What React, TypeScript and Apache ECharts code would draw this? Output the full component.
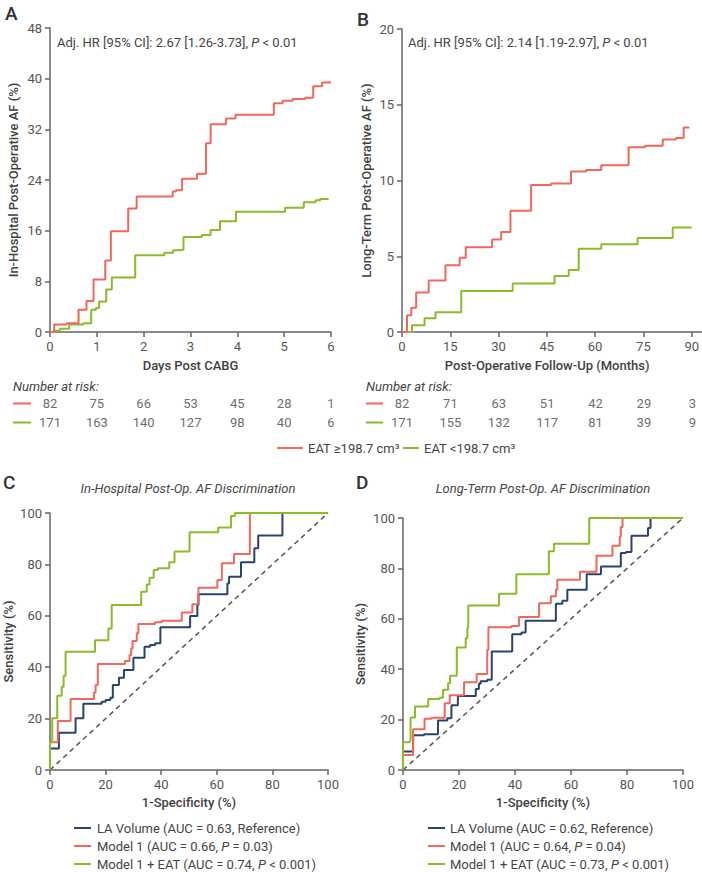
import React, { useEffect, useRef } from "react";
import * as echarts from "echarts";

// ---------------- DATA ----------------
const kmGroups = ["EAT \u2265198.7 cm\u00b3", "EAT <198.7 cm\u00b3"];

// Panel A: in-hospital KM (time in days, cumulative AF %)
const aRedSteps: [number, number][] = [
  [0, 0], [0.09, 1.2], [0.36, 1.4], [0.61, 3.5], [0.78, 4.9], [0.93, 8.3], [1.18, 11.3], [1.3, 15.9],
  [1.67, 19.5], [1.85, 21.4], [2.62, 22.2], [2.69, 22.4], [2.82, 24.2], [3.14, 25.0], [3.33, 29.8],
  [3.43, 32.8], [3.76, 33.7], [3.96, 34.3], [4.78, 36.1], [4.97, 36.5], [5.18, 36.8], [5.45, 37.0],
  [5.62, 38.8], [5.81, 39.4], [6.0, 39.4],
];
const aGreenSteps: [number, number][] = [
  [0, 0], [0.1, 0.2], [0.21, 0.5], [0.41, 1.2], [0.71, 1.4], [0.88, 3.5], [0.98, 3.8], [1.05, 4.8],
  [1.2, 6.7], [1.32, 8.6], [1.82, 12.1], [2.44, 12.5], [2.63, 12.9], [2.74, 13.0], [2.85, 15.0],
  [3.24, 15.3], [3.43, 16.1], [3.63, 17.5], [3.97, 19.0], [5.02, 19.6], [5.42, 20.5], [5.67, 20.8],
  [5.77, 21.0], [5.95, 21.0],
];
// Panel B: long-term KM (months, cumulative AF %)
const bRedSteps: [number, number][] = [
  [0, 0], [1.55, 1.1], [2.9, 1.6], [4.4, 2.6], [8.3, 3.4], [13.5, 4.4], [17.9, 4.9], [19.8, 5.6],
  [28.0, 6.1], [30.8, 6.6], [33.7, 8.0], [40.1, 9.7], [46.3, 9.8], [52.5, 10.6], [57.2, 10.7],
  [61.9, 11.0], [70.4, 12.2], [75.5, 12.3], [81.0, 12.7], [85.1, 12.8], [87.5, 13.5], [89.3, 13.5],
];
const bGreenSteps: [number, number][] = [
  [0, 0], [3.1, 0.45], [7.0, 0.9], [10.4, 1.3], [18.4, 2.7], [34.4, 3.2], [47.4, 3.7], [51.8, 4.1],
  [54.9, 5.5], [61.9, 5.8], [73.2, 6.2], [84.1, 6.9], [90, 6.9],
];

// Numbers at risk
const riskTimesA = [0, 1, 2, 3, 4, 5, 6];
const riskRedA = [82, 75, 66, 53, 45, 28, 1];
const riskGreenA = [171, 163, 140, 127, 98, 40, 6];
const riskTimesB = [0, 15, 30, 45, 60, 75, 90];
const riskRedB = [82, 71, 63, 51, 42, 29, 3];
const riskGreenB = [171, 155, 132, 117, 81, 39, 9];

// ROC curves: [1-specificity at end of plateau, sensitivity level]
const rocNamesC = [
  "LA Volume (AUC = 0.63, Reference)",
  "Model 1 (AUC = 0.66, P = 0.03)",
  "Model 1 + EAT (AUC = 0.74, P < 0.001)",
];
const rocNamesD = [
  "LA Volume (AUC = 0.62, Reference)",
  "Model 1 (AUC = 0.64, P = 0.04)",
  "Model 1 + EAT (AUC = 0.73, P < 0.001)",
];
const cNavy: [number, number][] = [
  [0, 0], [3.2, 8.4], [9.2, 14.5], [12.0, 20.1], [18.6, 25.8], [20.0, 26.6], [21.7, 27.2], [22.6, 28.1],
  [24.8, 33.1], [26.6, 35.9], [30.0, 38.9], [34.0, 43.7], [36.0, 48.0], [37.8, 48.6], [39.7, 49.3],
  [50.4, 55.5], [53.0, 59.9], [53.4, 64.2], [63.8, 68.4], [64.4, 72.6], [68.7, 75.2], [73.5, 80.8],
  [74.9, 86.3], [83.6, 91.2], [100, 100],
];
const cRed: [number, number][] = [
  [0, 0], [2.8, 10.8], [7.4, 19.1], [15.8, 27.6], [16.4, 30.2], [17.2, 33.1], [27.0, 41.2], [28.6, 42.4],
  [29.2, 44.7], [29.7, 47.3], [31.2, 50.2], [31.8, 53.2], [37.8, 56.8], [40.2, 57.5], [47.4, 58.1],
  [51.2, 61.3], [53.4, 64.5], [60.2, 70.9], [61.8, 73.9], [66.2, 80.4], [71.9, 84.0], [100, 100],
];
const cGreen: [number, number][] = [
  [0, 0], [0.8, 11.0], [2.6, 20.1], [4.2, 28.9], [4.9, 32.4], [5.6, 36.7], [16.2, 46.0], [21.0, 50.5],
  [22.2, 55.1], [32.8, 64.2], [34.8, 69.4], [35.8, 72.2], [37.3, 74.8], [38.8, 77.8], [42.9, 78.5],
  [44.8, 80.8], [50.2, 85.0], [60.5, 92.5], [65.1, 94.4], [66.5, 98.8], [100, 100],
];
const dNavy: [number, number][] = [
  [0, 0], [3.6, 7.3], [7.5, 13.8], [12.5, 14.2], [15.8, 19.6], [17.3, 20.5], [19.6, 25.7], [26.0, 29.4],
  [27.1, 32.1], [27.7, 34.2], [30.1, 35.2], [31.7, 35.8], [39.0, 47.0], [42.3, 53.9], [43.8, 54.6],
  [54.6, 59.2], [56.9, 66.0], [58.7, 67.2], [65.6, 71.5], [70.7, 77.7], [77.8, 80.8], [79.6, 86.1],
  [81.6, 86.5], [87.5, 93.0], [88.4, 96.0], [100, 100],
];
const dRed: [number, number][] = [
  [0, 0], [3.6, 6.0], [7.7, 16.2], [10.2, 20.3], [14.9, 20.7], [16.7, 26.5], [21.8, 29.7], [26.3, 34.8],
  [30.1, 38.1], [30.5, 47.7], [38.7, 56.6], [41.4, 57.1], [48.6, 60.7], [52.8, 66.2], [54.6, 68.9],
  [55.1, 71.5], [63.2, 75.5], [69.1, 78.7], [74.8, 85.0], [77.4, 89.0], [77.8, 92.7], [78.4, 96.4],
  [100, 100],
];
const dGreen: [number, number][] = [
  [0, 0], [2.4, 11.0], [2.7, 11.5], [4.3, 20.8], [9.0, 25.2], [13.1, 28.2], [14.3, 28.7], [16.1, 31.8],
  [16.8, 34.4], [19.2, 37.4], [22.4, 48.6], [23.0, 52.3], [23.3, 56.3], [34.3, 65.3], [40.5, 69.9],
  [52.1, 77.7], [53.9, 86.8], [66.5, 89.8], [100, 100],
];
const chanceLine: [number, number][] = [[0, 0], [100, 100]];

// ---------------- STYLE ----------------
const FONT = "Roboto, 'Liberation Sans Narrow', sans-serif";
const RED = "#F0685B";
const GREEN = "#8DBA2A";
const NAVY = "#2A4468";
const AXIS = "#666666";
const TXT = "#454545";

function richP(s: string): string {
  const idx = s.indexOf(", P ");
  if (idx < 0) return "{n|" + s + "}";
  return "{n|" + s.slice(0, idx + 2) + "}{i|P}{n|" + s.slice(idx + 3) + "}";
}

const richStyles = (size: number) => ({
  n: { fontSize: size, fontFamily: FONT, fill: TXT },
  i: { fontSize: size, fontFamily: FONT, fill: TXT, fontStyle: "italic" },
});

function axisBase() {
  return {
    axisLine: { lineStyle: { color: AXIS, width: 1.5 } },
    axisTick: { length: 5, lineStyle: { color: AXIS, width: 1.5 } },
    axisLabel: { color: "#555", fontSize: 13, fontFamily: FONT, margin: 8 },
    splitLine: { show: false },
    nameTextStyle: { color: "#3f3f3f", fontSize: 13, fontFamily: FONT, fontWeight: 500 },
  };
}

function txt(x: number, y: number, text: string, extra: any = {}) {
  return {
    type: "text",
    x,
    y,
    silent: true,
    style: {
      text,
      fill: TXT,
      fontSize: 13,
      fontFamily: FONT,
      verticalAlign: "middle",
      align: "left",
      ...extra,
    },
  };
}

function hline(x1: number, x2: number, y: number, color: string) {
  return {
    type: "line",
    silent: true,
    shape: { x1, y1: y, x2, y2: y },
    style: { stroke: color, lineWidth: 2 },
  };
}

function buildOption() {
  const kmLine = (name: string, data: any, color: string, idx: number) => ({
    type: "line",
    name,
    xAxisIndex: idx,
    yAxisIndex: idx,
    data,
    step: "end",
    symbol: "none",
    lineStyle: { color, width: 2 },
    itemStyle: { color },
    silent: true,
  });
  const rocLine = (name: string, data: any, color: string, idx: number) => ({
    type: "line",
    name,
    xAxisIndex: idx,
    yAxisIndex: idx,
    data,
    step: "start",
    symbol: "none",
    lineStyle: { color, width: 2 },
    itemStyle: { color },
    silent: true,
  });
  const diag = (idx: number) => ({
    type: "line",
    xAxisIndex: idx,
    yAxisIndex: idx,
    data: chanceLine,
    symbol: "none",
    lineStyle: { color: "#555", width: 1.5, type: [5, 4] },
    silent: true,
  });
  const riskSeries = (idx: number, times: number[], vals: number[], row: number) => ({
    type: "scatter",
    xAxisIndex: idx,
    yAxisIndex: idx,
    symbolSize: 1,
    itemStyle: { color: "rgba(0,0,0,0)" },
    silent: true,
    data: times.map((t, i) => [t, row, vals[i]]),
    label: {
      show: true,
      position: "inside",
      formatter: (p: any) => String(p.value[2]),
      color: TXT,
      fontSize: 13,
      fontFamily: FONT,
    },
  });

  const B = axisBase();
  const xAxes: any[] = [
    { ...B, type: "value", gridIndex: 0, min: 0, max: 6, interval: 1, name: "Days Post CABG", nameLocation: "middle", nameGap: 27 },
    {
      ...B, type: "value", gridIndex: 1, min: 0, max: 93, interval: 15,
      axisTick: { ...B.axisTick, customValues: riskTimesB },
      axisLabel: { ...B.axisLabel, customValues: riskTimesB },
      name: "Post-Operative Follow-Up (Months)", nameLocation: "middle", nameGap: 27, nameTextStyle: { ...B.nameTextStyle, padding: [0, 9, 0, 0] },
    },
    { ...B, type: "value", gridIndex: 2, min: 0, max: 100, interval: 20, name: "1-Specificity (%)", nameLocation: "middle", nameGap: 26 },
    { ...B, type: "value", gridIndex: 3, min: 0, max: 100, interval: 20, name: "1-Specificity (%)", nameLocation: "middle", nameGap: 26 },
    { type: "value", gridIndex: 4, min: 0, max: 6, show: false },
    { type: "value", gridIndex: 5, min: 0, max: 93, show: false },
  ];
  const yAxes: any[] = [
    { ...B, type: "value", gridIndex: 0, min: 0, max: 48, interval: 8, name: "In-Hospital Post-Operative AF (%)", nameLocation: "middle", nameGap: 30 },
    { ...B, type: "value", gridIndex: 1, min: 0, max: 20, interval: 5, name: "Long-Term Post-Operative AF (%)", nameLocation: "middle", nameGap: 29 },
    { ...B, type: "value", gridIndex: 2, min: 0, max: 100, interval: 20, name: "Sensitivity (%)", nameLocation: "middle", nameGap: 35 },
    { ...B, type: "value", gridIndex: 3, min: 0, max: 100, interval: 20, name: "Sensitivity (%)", nameLocation: "middle", nameGap: 36 },
    { type: "category", gridIndex: 4, data: ["r", "g"], inverse: true, show: false },
    { type: "category", gridIndex: 5, data: ["r", "g"], inverse: true, show: false },
  ];

  const LETTER = { fontSize: 19, fontWeight: 500, fill: "#333" };
  const graphic: any[] = [
    txt(5, 13, "A", LETTER),
    txt(357, 19, "B", LETTER),
    txt(3, 482, "C", LETTER),
    txt(356, 482, "D", LETTER),
    txt(57, 42, richP("Adj. HR [95% CI]: 2.67 [1.26-3.73], P < 0.01"), { rich: richStyles(13) }),
    txt(408, 42, richP("Adj. HR [95% CI]: 2.14 [1.19-2.97], P < 0.01"), { rich: richStyles(13) }),
    txt(13, 386, "Number at risk:", { fontStyle: "italic" }),
    txt(366, 386, "Number at risk:", { fontStyle: "italic" }),
    hline(13, 31, 403.5, RED),
    hline(13, 31, 422.5, GREEN),
    hline(366, 383, 403.5, RED),
    hline(366, 383, 422.5, GREEN),
    hline(277, 303, 448, RED),
    txt(308, 448, kmGroups[0]),
    hline(403, 419, 448, GREEN),
    txt(424, 448, kmGroups[1]),
    txt(188, 488, "In-Hospital Post-Op. AF Discrimination", { fontStyle: "italic", align: "center" }),
    txt(543, 488, "Long-Term Post-Op. AF Discrimination", { fontStyle: "italic", align: "center" }),
  ];
  const rocColors = [NAVY, RED, GREEN];
  rocNamesC.forEach((n, i) => {
    graphic.push(hline(74, 91, 828 + i * 18, rocColors[i]));
    graphic.push(txt(97, 828 + i * 18, richP(n), { rich: richStyles(13) }));
  });
  rocNamesD.forEach((n, i) => {
    graphic.push(hline(428, 445, 828 + i * 18, rocColors[i]));
    graphic.push(txt(450, 828 + i * 18, richP(n), { rich: richStyles(13) }));
  });

  return {
    animation: false,
    textStyle: { fontFamily: FONT },
    grid: [
      { left: 50, top: 28, width: 281, height: 304 },
      { left: 402, top: 29, width: 300, height: 303 },
      { left: 50, top: 513, width: 278, height: 257 },
      { left: 403, top: 518, width: 280, height: 252 },
      { left: 50, top: 394, width: 281, height: 38 },
      { left: 402, top: 394, width: 300, height: 38 },
    ],
    xAxis: xAxes,
    yAxis: yAxes,
    series: [
      kmLine(kmGroups[1], aGreenSteps, GREEN, 0),
      kmLine(kmGroups[0], aRedSteps, RED, 0),
      kmLine(kmGroups[1], bGreenSteps, GREEN, 1),
      kmLine(kmGroups[0], bRedSteps, RED, 1),
      diag(2),
      rocLine(rocNamesC[0], cNavy, NAVY, 2),
      rocLine(rocNamesC[1], cRed, RED, 2),
      rocLine(rocNamesC[2], cGreen, GREEN, 2),
      diag(3),
      rocLine(rocNamesD[0], dNavy, NAVY, 3),
      rocLine(rocNamesD[1], dRed, RED, 3),
      rocLine(rocNamesD[2], dGreen, GREEN, 3),
      riskSeries(4, riskTimesA, riskRedA, 0),
      riskSeries(4, riskTimesA, riskGreenA, 1),
      riskSeries(5, riskTimesB, riskRedB, 0),
      riskSeries(5, riskTimesB, riskGreenB, 1),
    ],
    graphic,
  };
}

export default function App() {
  const ref = useRef<HTMLDivElement>(null);
  useEffect(() => {
    document.body.style.margin = "0";
    const chart = echarts.init(ref.current!, null, { renderer: "svg" });
    chart.setOption(buildOption() as any);
    return () => chart.dispose();
  }, []);
  return <div ref={ref} style={{ width: 702, height: 872, background: "#fff" }} />;
}
